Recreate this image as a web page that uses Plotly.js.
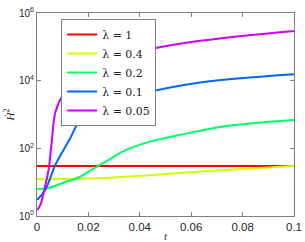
<!DOCTYPE html>
<html>
<head>
<meta charset="utf-8">
<script src="https://cdn.plot.ly/plotly-3.0.1.min.js"></script>
<style>html,body{margin:0;padding:0;background:#fff;}#chart{width:305px;height:242px;}</style>
</head>
<body>
<div id="chart"></div>
<script>
// Series labels
const seriesNames = ['λ = 1', 'λ = 0.4', 'λ = 0.2', 'λ = 0.1', 'λ = 0.05'];

// λ = 1
const tRed = [0, 0.1];
const yRed = [30, 30];

// λ = 0.4
const tYellow = [0, 0.0285, 0.044, 0.0635, 0.1];
const yYellow = [12.2, 13.6, 16.0, 20.5, 30];

// λ = 0.2
const tGreen = [0, 0.0039, 0.0071, 0.0103, 0.0137, 0.0168, 0.0199, 0.0233, 0.0285, 0.0343, 0.044, 0.0595, 0.0751, 0.1];
const yGreen = [6.2, 6.6, 7.7, 9.7, 11.6, 14.5, 20, 28.8, 48.6, 86.7, 158, 286, 470, 692];

// λ = 0.1
const tBlue = [0, 0.0032, 0.0071, 0.0103, 0.0126, 0.0168, 0.022, 0.0285, 0.0405, 0.0635, 0.1];
const yBlue = [3, 5.9, 32, 89, 178, 690, 1300, 2000, 4000, 8800, 15500];

// λ = 0.05
const tMag = [0, 0.0013, 0.0031, 0.0045, 0.0058, 0.0071, 0.0097, 0.015, 0.02, 0.03, 0.0405, 0.044, 0.0635, 0.1];
const yMag = [1.5, 2.1, 7.4, 23, 178, 1120, 3400, 10000, 18000, 40000, 72000, 85000, 151000, 296000];

// Axis ticks
const xTickVals = [0, 0.02, 0.04, 0.06, 0.08, 0.1];
const xTickText = ['0', '0.02', '0.04', '0.06', '0.08', '0.1'];
const yTickVals = [1, 100, 10000, 1000000];
const yTickText = ['10<sup>0</sup>', '10<sup>2</sup>', '10<sup>4</sup>', '10<sup>6</sup>'];

const colors = ['#FF0000', '#CCFF00', '#00FF66', '#0066FF', '#CC00FF'];
const xs = [tRed, tYellow, tGreen, tBlue, tMag];
const ys = [yRed, yYellow, yGreen, yBlue, yMag];

const traces = xs.map((x, i) => ({
  x: x, y: ys[i], name: seriesNames[i], type: 'scatter', mode: 'lines',
  line: {color: colors[i], width: 2, shape: 'spline', smoothing: 1}
}));

const axisCommon = {
  showline: true, linecolor: '#7f7f7f', linewidth: 1, mirror: 'ticks',
  ticks: 'inside', ticklen: 4, tickcolor: '#7f7f7f', showgrid: false, zeroline: false
};

const layout = {
  width: 305, height: 242,
  margin: {l: 37, r: 11, t: 13, b: 26},
  paper_bgcolor: '#fff', plot_bgcolor: '#fff',
  showlegend: true,
  legend: {
    x: 0.094, y: 0.97, xanchor: 'left', yanchor: 'top',
    bgcolor: '#fff', bordercolor: '#7f7f7f', borderwidth: 1,
    font: {family: 'DejaVu Serif, serif', size: 11, color: '#222'}
  },
  xaxis: Object.assign({}, axisCommon, {
    range: [0, 0.1], tickvals: xTickVals, ticktext: xTickText,
    tickfont: {family: 'Liberation Sans, Arial, sans-serif', size: 11.5, color: '#262626'},
    title: {text: '<i>t</i>', font: {family: 'Liberation Serif, serif', size: 11, color: '#262626'}, standoff: 0}
  }),
  yaxis: Object.assign({}, axisCommon, {
    type: 'log', range: [0, 6], tickvals: yTickVals, ticktext: yTickText,
    tickfont: {family: 'Liberation Sans, Arial, sans-serif', size: 10, color: '#262626'},
    title: {text: '<i>Ḣ</i><sup>2</sup>', font: {family: 'Liberation Serif, serif', size: 11, color: '#262626'}, standoff: 2}
  })
};

Plotly.newPlot('chart', traces, layout, {displayModeBar: false, staticPlot: true});
</script>
</body>
</html>
